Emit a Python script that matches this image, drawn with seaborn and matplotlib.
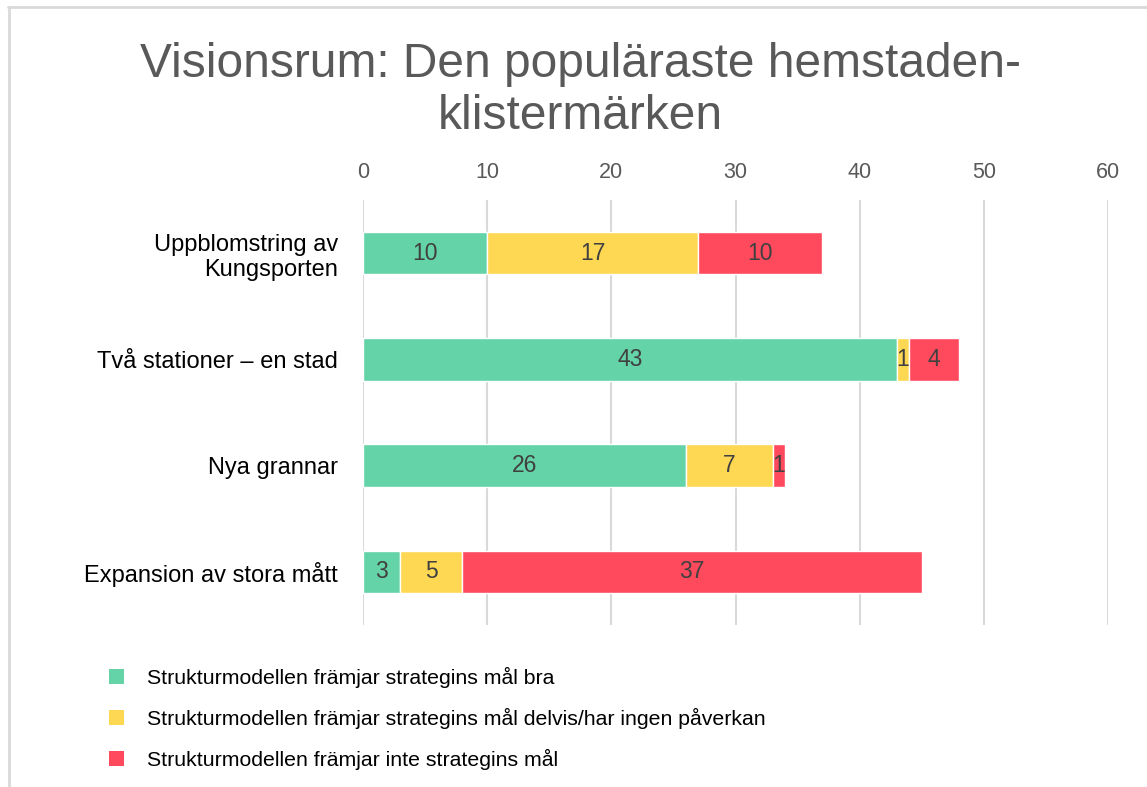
import seaborn as sns
import pandas as pd
import matplotlib.pyplot as plt
from matplotlib.lines import Line2D
from matplotlib.patches import Patch

# Data
categories = ["Uppblomstring av\nKungsporten", "Två stationer – en stad", "Nya grannar", "Expansion av stora mått"]
bra = [10, 43, 26, 3]
delvis = [17, 1, 7, 5]
inte = [10, 4, 1, 37]
series_names = ["Strukturmodellen främjar strategins mål bra",
                "Strukturmodellen främjar strategins mål delvis/har ingen påverkan",
                "Strukturmodellen främjar inte strategins mål"]
colors = ["#64D3A7", "#FFD853", "#FF4A5E"]
x_ticks = [0, 10, 20, 30, 40, 50, 60]

sns.set_style("white")
plt.rcParams['font.family'] = ['Liberation Sans', 'DejaVu Sans']

df = pd.DataFrame({"cat": categories, "bra": bra, "delvis": delvis, "inte": inte})
df["left_delvis"] = df["bra"]
df["left_inte"] = df["bra"] + df["delvis"]

fig = plt.figure(figsize=(11.47, 7.87), dpi=100)
ax = fig.add_axes([363 / 1147, 1 - 625 / 787, (1108 - 363) / 1147, 425 / 787])

# stacked segments, each drawn with seaborn
sns.barplot(data=df, y="cat", x="bra", color=colors[0], width=0.4, ax=ax, saturation=1, zorder=3)
sns.barplot(data=df, y="cat", x="delvis", color=colors[1], width=0.4, ax=ax, saturation=1,
            left=df["left_delvis"], zorder=3)
sns.barplot(data=df, y="cat", x="inte", color=colors[2], width=0.4, ax=ax, saturation=1,
            left=df["left_inte"], zorder=3)

values = [bra, delvis, inte]
for cont, vals in zip(ax.containers, values):
    ax.bar_label(cont, labels=[str(v) for v in vals], label_type="center",
                 fontsize=16.5, color="#404040")

ax.set_xlim(0, 60)
ax.set_ylim(3.5, -0.5)
ax.set_xticks(x_ticks)
ax.xaxis.tick_top()
ax.tick_params(axis="x", length=0, pad=12, labelsize=15.5, labelcolor="#595959")
ax.tick_params(axis="y", length=0, pad=18, labelsize=17, labelcolor="black")
ax.grid(axis="x", color="#d9d9d9", linewidth=1.5, zorder=0)
ax.set_axisbelow(True)
ax.set_xlabel("")
ax.set_ylabel("")
for s in ax.spines.values():
    s.set_visible(False)

fig.text(0.506, 1 - 42 / 787, "Visionsrum: Den populäraste hemstaden-\nklistermärken",
         ha="center", va="top", fontsize=34.5, color="#595959", linespacing=1.2)

handles = [Patch(facecolor=c, edgecolor="none") for c in colors]
fig.legend(handles, series_names, loc="upper left", bbox_to_anchor=(90 / 1147, 1 - 648 / 787),
           frameon=False, fontsize=15.3, labelcolor="black", handlelength=0.7, handleheight=0.7,
           handletextpad=1.1, labelspacing=0.93)

# light frame around the chart area
fig.add_artist(Line2D([8 / 1147, 1], [1 - 7 / 787, 1 - 7 / 787], color="#d9d9d9", linewidth=2,
                      transform=fig.transFigure))
fig.add_artist(Line2D([9 / 1147, 9 / 1147], [0, 1 - 7 / 787], color="#d9d9d9", linewidth=2,
                      transform=fig.transFigure))

plt.savefig("out.png", dpi=100)
